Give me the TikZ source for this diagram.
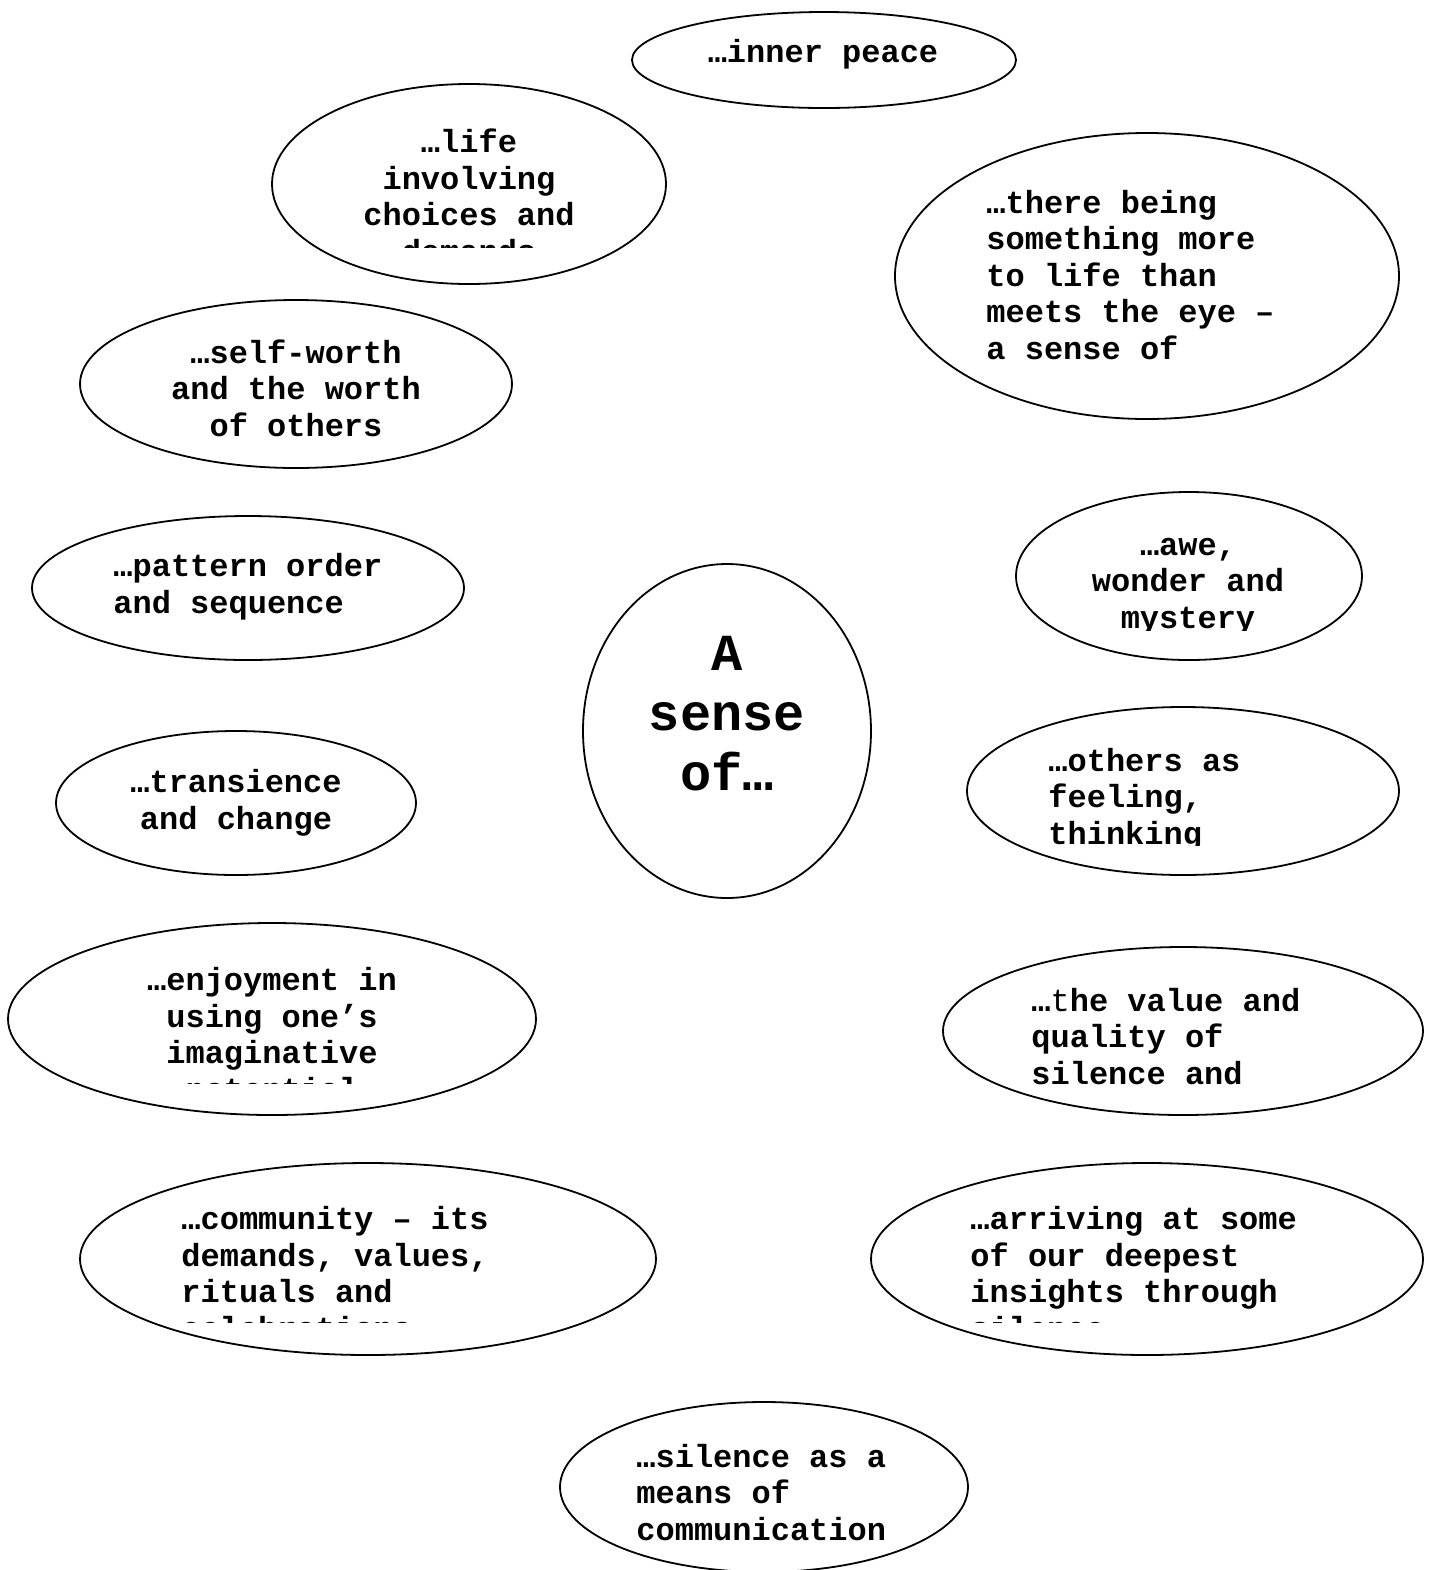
\documentclass[tikz,border=0pt]{standalone}
\usepackage{fontspec}
\setmonofont{Liberation Mono}
\usepackage{tikz}
\usetikzlibrary{shapes.geometric}

\begin{document}
\begin{tikzpicture}[x=0.5pt,y=-0.5pt,
    bubble/.style={draw, ellipse, line width=0.9pt, inner sep=0pt},
    words/.style={inner sep=0pt, font=\ttfamily\bfseries\fontsize{16}{18.2}\selectfont},
    bigwords/.style={inner sep=0pt, align=center, font=\ttfamily\bfseries\fontsize{26}{30}\selectfont}]
\useasboundingbox (0,0) rectangle (1436,1570);
% Centre
\node[bubble, minimum width=144pt, minimum height=167pt] (centre) at (727,731) {};
\node[bigwords, anchor=base] (centretxt) at (727,790) {A\\sense\\of…};
% Top row
\node[bubble, minimum width=192pt, minimum height=48pt] (peace) at (824,60) {};
\node[words, anchor=base] (peacetxt) at (823,62) {…inner peace};
\node[bubble, minimum width=197pt, minimum height=100pt] (life) at (469,184) {};
\begin{scope}
  \clip (300,110) rectangle (640,247);
  \node[words, align=center, anchor=base] (lifetxt) at (469,262) {…life\\involving\\choices and\\demands};
\end{scope}
\node[bubble, minimum width=252pt, minimum height=143pt] (more) at (1147,276) {};
\node[words, align=left, anchor=base west] (moretxt) at (986,359) {…there being\\something more\\to life than\\meets the eye –\\a sense of};
% Left column
\node[bubble, minimum width=216pt, minimum height=84pt] (worth) at (296,384) {};
\node[words, align=center, anchor=base] (worthtxt) at (296,436) {…self-worth\\and the worth\\of others};
\node[bubble, minimum width=216pt, minimum height=72pt] (pattern) at (248,588) {};
\node[words, align=left, anchor=base west] (patterntxt) at (113,613) {…pattern order\\and sequence};
\node[bubble, minimum width=180pt, minimum height=72pt] (change) at (236,803) {};
\node[words, align=center, anchor=base] (changetxt) at (236,829) {…transience\\and change};
\node[bubble, minimum width=264pt, minimum height=96pt] (enjoy) at (272,1019) {};
\begin{scope}
  \clip (40,940) rectangle (500,1083);
  \node[words, align=center, anchor=base] (enjoytxt) at (272,1100) {…enjoyment in\\using one’s\\imaginative\\potential};
\end{scope}
\node[bubble, minimum width=288pt, minimum height=96pt] (community) at (368,1259) {};
\begin{scope}
  \clip (100,1180) rectangle (640,1322);
  \node[words, align=left, anchor=base west] (communitytxt) at (181,1339) {…community – its\\demands, values,\\rituals and\\celebrations};
\end{scope}
% Right column
\node[bubble, minimum width=173pt, minimum height=84pt] (awe) at (1189,576) {};
\begin{scope}
  \clip (1040,510) rectangle (1340,630);
  \node[words, align=center, anchor=base] (awetxt) at (1188,628) {…awe,\\wonder and\\mystery};
\end{scope}
\node[bubble, minimum width=216pt, minimum height=84pt] (others) at (1183,791) {};
\begin{scope}
  \clip (1000,720) rectangle (1380,845);
  \node[words, align=left, anchor=base west] (otherstxt) at (1048,844) {…others as\\feeling,\\thinking};
\end{scope}
\node[bubble, minimum width=240pt, minimum height=84pt] (value) at (1183,1031) {};
\node[words, align=left, anchor=base west] (valuetxt) at (1031,1084) {…{\mdseries t}he value and\\quality of\\silence and};
\node[bubble, minimum width=276pt, minimum height=96pt] (insight) at (1147,1259) {};
\begin{scope}
  \clip (900,1180) rectangle (1400,1322);
  \node[words, align=left, anchor=base west] (insighttxt) at (970,1339) {…arriving at some\\of our deepest\\insights through\\silence};
\end{scope}
% Bottom
\node[bubble, minimum width=204pt, minimum height=85pt] (silence) at (764,1487) {};
\node[words, align=left, anchor=base west] (silencetxt) at (636,1540) {…silence as a\\means of\\communication};
\end{tikzpicture}
\end{document}
